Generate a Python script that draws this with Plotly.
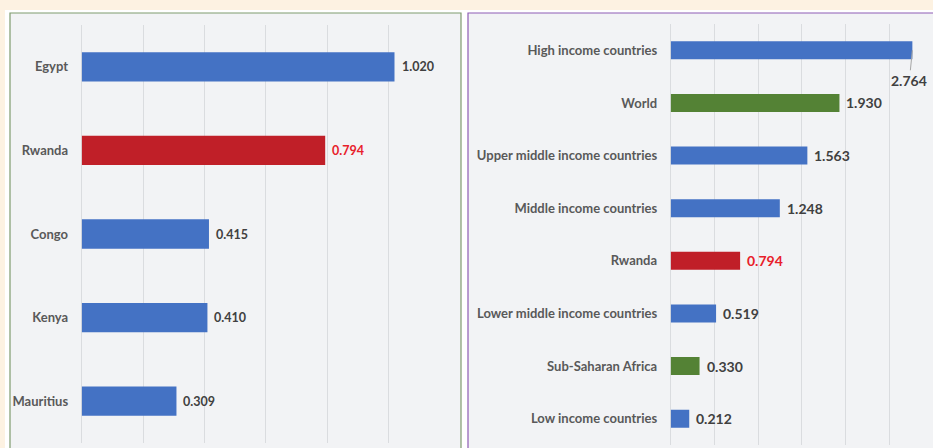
import plotly.graph_objects as go

W, H = 933, 448

# ---- data ----
left_categories = ["Egypt", "Rwanda", "Congo", "Kenya", "Mauritius"]
left_values = [1.020, 0.794, 0.415, 0.410, 0.309]
left_colors = ["#4472C4", "#C01F28", "#4472C4", "#4472C4", "#4472C4"]

right_categories = ["High income countries", "World", "Upper middle income countries",
                    "Middle income countries", "Rwanda", "Lower middle income countries",
                    "Sub-Saharan Africa", "Low income countries"]
right_values = [2.764, 1.930, 1.563, 1.248, 0.794, 0.519, 0.330, 0.212]
right_colors = ["#4472C4", "#548235", "#4472C4", "#4472C4", "#C01F28", "#4472C4",
                "#548235", "#4472C4"]

DARK = "#404040"
RED = "#E8202A"
FONT = "Lato"


def px(x):
    return x / W


def py(y):
    return 1 - y / H


fig = go.Figure()
fig.add_trace(go.Bar(x=left_values, y=left_categories, orientation="h",
                     marker=dict(color=left_colors, line=dict(width=0)),
                     width=0.35, xaxis="x", yaxis="y", hoverinfo="x+y"))
fig.add_trace(go.Bar(x=right_values, y=right_categories, orientation="h",
                     marker=dict(color=right_colors, line=dict(width=0)),
                     width=0.34, xaxis="x2", yaxis="y2", hoverinfo="x+y"))

annotations = []
for c, v in zip(left_categories, left_values):
    annotations.append(dict(x=v, y=c, xref="x", yref="y", text=f"{v:.3f}",
                            showarrow=False, xanchor="left", xshift=5,
                            font=dict(family=FONT, size=12.5, weight="bold",
                                      color=RED if c == "Rwanda" else DARK)))
for i, (c, v) in enumerate(zip(right_categories, right_values)):
    if i == 0:
        annotations.append(dict(x=v, y=c, xref="x2", yref="y2", text=f"{v:.3f}",
                                showarrow=True, arrowhead=0, arrowwidth=1,
                                arrowcolor="#A6A6A6", ax=-3, ay=30,
                                font=dict(family=FONT, size=14, weight="bold", color=DARK)))
    else:
        annotations.append(dict(x=v, y=c, xref="x2", yref="y2", text=f"{v:.3f}",
                                showarrow=False, xanchor="left", xshift=5,
                                font=dict(family=FONT, size=14, weight="bold",
                                          color=RED if c == "Rwanda" else DARK)))

shapes = [
    # white outer backing
    dict(type="rect", xref="paper", yref="paper", x0=px(5), x1=px(940), y0=py(460), y1=py(10),
         fillcolor="white", line=dict(width=0), layer="below"),
    # left panel
    dict(type="rect", xref="paper", yref="paper", x0=px(10), x1=px(461), y0=py(470), y1=py(13),
         fillcolor="#F2F3F5", line=dict(color="#7F9B6E", width=1.2), layer="below"),
    # right panel
    dict(type="rect", xref="paper", yref="paper", x0=px(468), x1=px(960), y0=py(470), y1=py(13),
         fillcolor="#F2F3F5", line=dict(color="#8E5CB5", width=1.2), layer="below"),
]

axis_common = dict(showgrid=True, gridcolor="#DADCDF", gridwidth=1, zeroline=True,
                   zerolinecolor="#DADCDF", zerolinewidth=1, showticklabels=False,
                   showline=False, fixedrange=True)
yaxis_common = dict(showgrid=False, zeroline=False, showline=False,
                    ticks="outside", ticklen=10, tickcolor="rgba(0,0,0,0)",
                    tickfont=dict(family=FONT, size=13, weight="bold", color="#595959"))

fig.update_layout(
    width=W, height=H,
    margin=dict(l=0, r=0, t=0, b=0),
    paper_bgcolor="#FDF2E2",
    plot_bgcolor="rgba(0,0,0,0)",
    showlegend=False,
    xaxis=dict(domain=[px(81.7), px(449.7)], range=[0, 1.2], dtick=0.2, **axis_common),
    yaxis=dict(domain=[py(443), py(25)], anchor="x",
               range=[len(left_categories) - 0.5, -0.5], **yaxis_common),
    xaxis2=dict(domain=[px(670.7), 1.0], range=[0, 3.0], dtick=0.5, anchor="y2", **axis_common),
    yaxis2=dict(domain=[py(445), py(24)], anchor="x2",
                range=[len(right_categories) - 0.5, -0.5], **yaxis_common),
    shapes=shapes,
    annotations=annotations,
)

fig.write_html("out.html")
